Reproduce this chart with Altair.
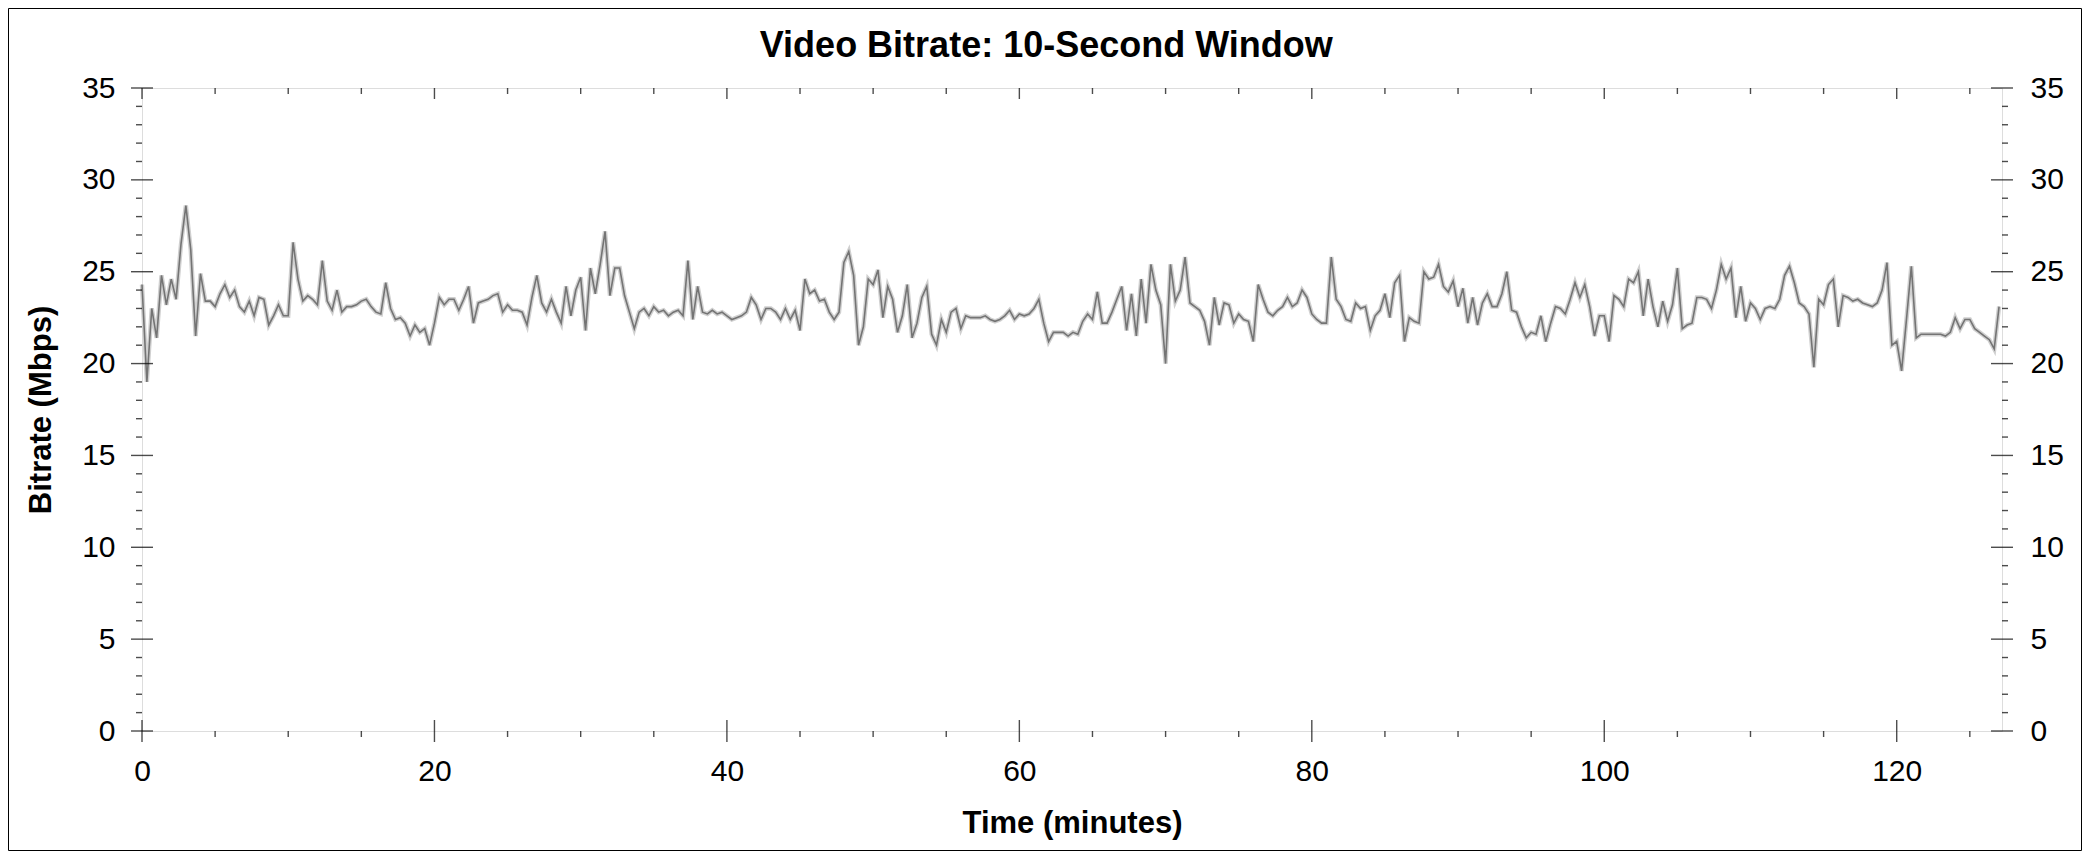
import altair as alt
import pandas as pd

FONT = "Liberation Sans"

# Bitrate (Mbps), one value every 20 seconds (1/3 minute)
SAMPLE_STEP_MIN = 1 / 3
BITRATE_00_21 = [24.3, 19.0, 23.0, 21.4, 24.8, 23.2, 24.6, 23.5, 26.5, 28.6,
                 26.2, 21.5, 24.9, 23.4, 23.4, 23.1, 23.8, 24.3, 23.6, 24.0,
                 23.1, 22.8, 23.4, 22.6, 23.6, 23.5, 22.1, 22.6, 23.2, 22.6,
                 22.6, 26.6, 24.6, 23.4, 23.7, 23.5, 23.2, 25.6, 23.4, 22.9,
                 24.0, 22.8, 23.1, 23.1, 23.2, 23.4, 23.5, 23.1, 22.8, 22.7,
                 24.4, 23.0, 22.4, 22.5, 22.2, 21.5, 22.1, 21.7, 21.9, 21.0,
                 22.2, 23.6, 23.2, 23.5]
BITRATE_21_42 = [23.5, 22.9, 23.5, 24.2, 22.2, 23.3, 23.4, 23.5, 23.7, 23.8,
                 22.8, 23.2, 22.9, 22.9, 22.8, 22.1, 23.6, 24.8, 23.3, 22.8,
                 23.5, 22.8, 22.2, 24.2, 22.6, 24.0, 24.7, 21.8, 25.2, 23.8,
                 25.4, 27.2, 23.7, 25.2, 25.2, 23.7, 22.8, 21.9, 22.8, 23.0,
                 22.6, 23.1, 22.8, 22.9, 22.6, 22.8, 22.9, 22.6, 25.6, 22.4,
                 24.2, 22.8, 22.7, 22.9, 22.7, 22.8, 22.6, 22.4, 22.5, 22.6,
                 22.8, 23.6, 23.2, 22.4]
BITRATE_42_63 = [23.0, 23.0, 22.8, 22.4, 23.0, 22.4, 22.9, 21.8, 24.6, 23.8,
                 24.0, 23.4, 23.5, 22.8, 22.4, 22.8, 25.5, 26.1, 24.8, 21.0,
                 22.0, 24.6, 24.3, 25.1, 22.5, 24.2, 23.5, 21.7, 22.6, 24.3,
                 21.4, 22.2, 23.6, 24.2, 21.6, 21.0, 22.4, 21.7, 22.8, 23.0,
                 21.9, 22.6, 22.5, 22.5, 22.5, 22.6, 22.4, 22.3, 22.4, 22.6,
                 22.9, 22.4, 22.7, 22.6, 22.7, 23.0, 23.5, 22.2, 21.2, 21.7,
                 21.7, 21.7, 21.5]
BITRATE_63_85 = [21.7, 21.6, 22.3, 22.7, 22.4, 23.9, 22.2, 22.2, 22.8, 23.5,
                 24.2, 21.8, 23.8, 21.5, 24.6, 22.2, 25.4, 24.0, 23.2, 20.0,
                 25.4, 23.4, 24.0, 25.8, 23.3, 23.1, 22.9, 22.3, 21.0, 23.6,
                 22.1, 23.3, 23.2, 22.2, 22.7, 22.4, 22.3, 21.2, 24.3, 23.5,
                 22.8, 22.6, 22.9, 23.1, 23.6, 23.1, 23.3, 24.0, 23.6, 22.7,
                 22.4, 22.2, 22.2, 25.8, 23.5, 23.1, 22.4, 22.3, 23.3, 23.0,
                 23.1, 21.8, 22.6, 22.9]
BITRATE_85_106 = [23.8, 22.5, 24.4, 24.8, 21.2, 22.5, 22.3, 22.2, 25.0, 24.6,
                  24.7, 25.4, 24.2, 23.9, 24.5, 23.1, 24.1, 22.2, 23.6, 22.1,
                  23.3, 23.8, 23.1, 23.1, 23.8, 25.0, 22.9, 22.8, 22.0, 21.4,
                  21.7, 21.6, 22.6, 21.2, 22.2, 23.1, 23.0, 22.7, 23.5, 24.4,
                  23.6, 24.3, 23.1, 21.5, 22.6, 22.6, 21.2, 23.7, 23.5, 23.1,
                  24.6, 24.4, 25.0, 22.6, 24.6, 23.1, 22.0, 23.4, 22.3, 23.2,
                  25.2, 21.9, 22.1]
BITRATE_106_127 = [22.2, 23.6, 23.6, 23.5, 23.0, 24.0, 25.4, 24.6, 25.2, 22.5,
                   24.2, 22.3, 23.3, 23.0, 22.4, 23.0, 23.1, 23.0, 23.5, 24.8,
                   25.3, 24.4, 23.3, 23.1, 22.7, 19.8, 23.5, 23.2, 24.3, 24.6,
                   22.0, 23.7, 23.6, 23.4, 23.5, 23.3, 23.2, 23.1, 23.3, 24.0,
                   25.5, 21.0, 21.2, 19.6, 22.4, 25.3, 21.4, 21.6, 21.6, 21.6,
                   21.6, 21.6, 21.5, 21.7, 22.5, 21.9, 22.4, 22.4, 21.9, 21.7,
                   21.5, 21.3, 20.8, 23.1]

X_MAX = 127.2
X_MAJOR = [0, 20, 40, 60, 80, 100, 120]
X_MINOR = [5, 10, 15, 25, 30, 35, 45, 50, 55, 65, 70, 75, 85, 90, 95,
           105, 110, 115, 125]
Y_MAJOR = [0, 5, 10, 15, 20, 25, 30, 35]
Y_MINOR = [1, 2, 3, 4, 6, 7, 8, 9, 11, 12, 13, 14, 16, 17, 18, 19,
           21, 22, 23, 24, 26, 27, 28, 29, 31, 32, 33, 34]

bitrate = (BITRATE_00_21 + BITRATE_21_42 + BITRATE_42_63 + BITRATE_63_85
           + BITRATE_85_106 + BITRATE_106_127)
df = pd.DataFrame({
    "time": [round(i * SAMPLE_STEP_MIN, 4) for i in range(len(bitrate))],
    "bitrate": bitrate,
})

W, H = 1860, 643

xscale = alt.Scale(domain=[0, X_MAX], nice=False, zero=False)
yscale = alt.Scale(domain=[0, 35], nice=False, zero=False)

xaxis = alt.Axis(title="Time (minutes)", values=X_MAJOR, domain=False, ticks=False,
                 tickSize=0, grid=False, labelPadding=25, labelFont=FONT,
                 labelFontSize=30, labelColor="black", labelFlush=False,
                 labelOverlap=False, titleFont=FONT, titleFontSize=31,
                 titleFontWeight="bold", titleColor="black", titleX=W / 2,
                 titleY=101, titleAlign="center", titleBaseline="alphabetic")
yaxis_left = alt.Axis(title="Bitrate (Mbps)", values=Y_MAJOR, domain=False,
                      ticks=False, tickSize=0, grid=False, labelPadding=27,
                      labelFont=FONT, labelFontSize=30, labelColor="black",
                      labelOverlap=False, titleFont=FONT, titleFontSize=31,
                      titleFontWeight="bold", titleColor="black", titleAngle=270,
                      titleX=-92, titleY=H / 2, titleAlign="center",
                      titleBaseline="alphabetic")
yaxis_right = alt.Axis(title=None, orient="right", values=Y_MAJOR, domain=False,
                       ticks=False, tickSize=0, grid=False, labelPadding=28,
                       labelFont=FONT, labelFontSize=30, labelColor="black",
                       labelOverlap=False)


def xenc():
    return alt.X("time:Q", scale=xscale, axis=xaxis)


def yenc_left():
    return alt.Y("bitrate:Q", scale=yscale, axis=yaxis_left)


halo = alt.Chart(df).mark_line(color="#d0d0d0", strokeWidth=4.4).encode(
    x=xenc(), y=yenc_left())
line = alt.Chart(df).mark_line(color="#747474", strokeWidth=1.6).encode(
    x=xenc(), y=yenc_left())


def xticks(values, level, size, yoff):
    d = pd.DataFrame({"time": values, "bitrate": [level] * len(values)})
    return alt.Chart(d).mark_tick(orient="vertical", size=size, thickness=1.4,
                                  color="black", yOffset=yoff).encode(
        x=xenc(), y=yenc_left())


def yticks(values, at, size, xoff, yenc):
    d = pd.DataFrame({"time": [at] * len(values), "bitrate": values})
    return alt.Chart(d).mark_tick(orient="horizontal", size=size, thickness=1.4,
                                  color="black", xOffset=xoff).encode(
        x=xenc(), y=yenc)


frame = alt.Chart(pd.DataFrame({"f": [0]})).mark_rect(
    fillOpacity=0, stroke="black", strokeWidth=1).encode(
    x=alt.value(-133.5), x2=alt.value(W + 79.5),
    y=alt.value(-79.5), y2=alt.value(H + 119.5))

inner = alt.layer(
    frame,
    halo,
    line,
    xticks(X_MAJOR, 0, 22, 0),
    xticks(X_MINOR, 0, 6, 3),
    xticks(X_MAJOR, 35, 11, 5.5),
    xticks(X_MINOR, 35, 6, 3),
    yticks(Y_MAJOR, 0, 22, 0, yenc_left()),
    yticks(Y_MINOR, 0, 6, -3, yenc_left()),
)

yr = alt.Y("bitrate:Q", scale=yscale, axis=yaxis_right)
right = alt.layer(
    yticks(Y_MAJOR, X_MAX, 22, 0, yr),
    yticks(Y_MINOR, X_MAX, 6, 3, yr),
)

chart = alt.layer(inner, right).resolve_scale(y="independent").properties(
    width=W, height=H,
    padding={"left": 134, "top": 80, "right": 80, "bottom": 120},
    autosize=alt.AutoSizeParams(type="none"),
    title=alt.TitleParams(text="Video Bitrate: 10-Second Window", font=FONT,
                          fontSize=36, fontWeight="bold", color="black",
                          anchor="middle", baseline="alphabetic", offset=0,
                          dy=85, dx=-25.7),
).configure_view(stroke="black", strokeWidth=1).configure(background="white")

chart.save("out.html", embed_options={"renderer": "svg", "actions": False})
